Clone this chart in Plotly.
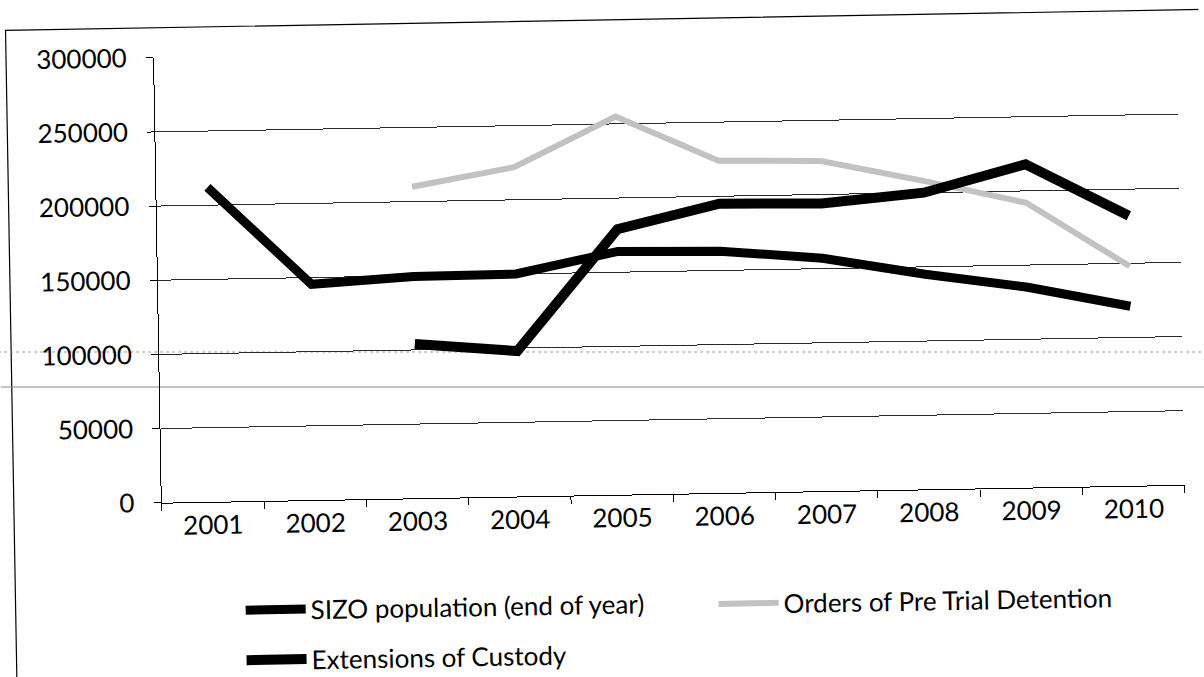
import plotly.graph_objects as go

# Annual figures, 2001-2010
years = ["2001", "2002", "2003", "2004", "2005", "2006", "2007", "2008", "2009", "2010"]
sizo_population = [212000, 145500, 149500, 150000, 164000, 163000, 157000, 145000, 135000, 121000]
pretrial_orders = [None, None, 210000, 222000, 255000, 224000, 222500, 208000, 192000, 148000]
custody_extensions = [None, None, 104000, 98000, 179000, 195000, 194000, 200000, 218000, 182000]

y_ticks = [0, 50000, 100000, 150000, 200000, 250000, 300000]

W, H = 1204, 677
M_L, M_R, M_T, M_B = 159, 22, 50, 182
PW, PH = W - M_L - M_R, H - M_T - M_B


def px_x(p):
    return (p - M_L) / PW


def px_y(p):
    return (H - M_B - p) / PH


FONT = "Lato, 'Liberation Sans', sans-serif"

fig = go.Figure()
fig.add_trace(go.Scatter(
    x=years, y=sizo_population, mode="lines", name="SIZO population (end of year)",
    line=dict(color="#000000", width=9), legend="legend",
))
fig.add_trace(go.Scatter(
    x=years, y=pretrial_orders, mode="lines", name="Orders of Pre Trial Detention",
    line=dict(color="#c2c2c2", width=6), legend="legend3",
))
fig.add_trace(go.Scatter(
    x=years, y=custody_extensions, mode="lines", name="Extensions of Custody",
    line=dict(color="#000000", width=10), legend="legend2",
))

legend_style = dict(
    orientation="h", xanchor="left", yanchor="middle",
    font=dict(size=26), itemwidth=60, bgcolor="rgba(0,0,0,0)",
)

# faint page marks running across the sheet (kept level on screen, so they
# counter the 1 degree turn applied to the whole figure)
page_marks = [
    dict(type="line", xref="paper", yref="paper",
         x0=px_x(-20), y0=px_y(341.1), x1=px_x(1224), y1=px_y(362.8),
         line=dict(color="#9a9a9a", width=1, dash="dot"), layer="below"),
    dict(type="line", xref="paper", yref="paper",
         x0=px_x(-20), y0=px_y(376.1), x1=px_x(1224), y1=px_y(397.8),
         line=dict(color="#8a8a8a", width=1), layer="below"),
]

fig.update_layout(
    width=W, height=H,
    margin=dict(l=M_L, r=M_R, t=M_T, b=M_B, autoexpand=False),
    paper_bgcolor="white", plot_bgcolor="white",
    font=dict(family=FONT, size=26, color="#000000"),
    showlegend=True,
    legend=dict(x=px_x(236), y=px_y(604), **legend_style),
    legend3=dict(x=px_x(709), y=px_y(606), **legend_style),
    legend2=dict(x=px_x(236), y=px_y(654), **legend_style),
    xaxis=dict(
        type="category", range=[-0.5, 9.5], tickson="boundaries", ticks="outside", ticklen=7,
        tickcolor="#000000", showline=True, linecolor="#000000", linewidth=1.2,
        showgrid=False, tickfont=dict(size=26), ticklabelstandoff=0, automargin=False,
    ),
    yaxis=dict(
        range=[0, 300000], tickvals=y_ticks, ticktext=[str(v) for v in y_ticks],
        ticks="outside", ticklen=7, tickcolor="#000000",
        showline=True, linecolor="#000000", linewidth=1.2,
        showgrid=True, gridcolor="#2a2a2a", gridwidth=1.2, zeroline=False,
        tickfont=dict(size=26), ticklabelstandoff=14, automargin=False,
    ),
    shapes=[
        # chart-area border
        dict(type="rect", xref="paper", yref="paper",
             x0=px_x(11), x1=px_x(W + 40), y0=px_y(H + 40), y1=px_y(20),
             line=dict(color="#000000", width=1.2), fillcolor="rgba(0,0,0,0)", layer="below"),
        *page_marks,
    ],
)

fig.write_html(
    "out.html",
    post_script=(
        "document.body.style.margin='0';"
        "var d=document.getElementById('{plot_id}');"
        "d.style.transformOrigin='602px 338px';"
        "d.style.transform='rotate(-1deg)';"
    ),
)
